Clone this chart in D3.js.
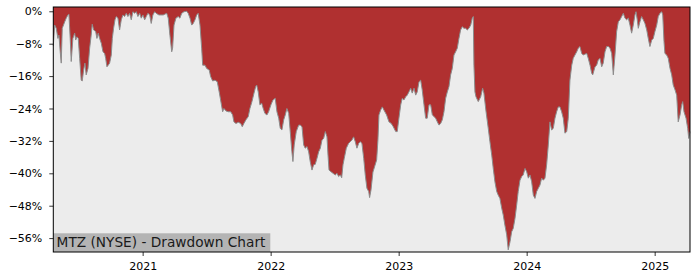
<!DOCTYPE html>
<html>
<head>
<meta charset="utf-8">
<script src="https://cdn.jsdelivr.net/npm/d3@7"></script>
<style>
  body { margin: 0; background: #fff; }
  svg text { font-family: "DejaVu Sans", sans-serif; }
</style>
</head>
<body>
<div id="chart"></div>
<script>
// time in decimal years, drawdown in percent
const years = [
  2020.302, 2020.313, 2020.325, 2020.338, 2020.346, 2020.356, 2020.364, 2020.372, 2020.391, 2020.403,
  2020.416, 2020.424, 2020.434, 2020.442, 2020.455, 2020.469, 2020.477, 2020.487, 2020.497, 2020.508,
  2020.520, 2020.528, 2020.539, 2020.549, 2020.559, 2020.573, 2020.586, 2020.598, 2020.606, 2020.617,
  2020.633, 2020.643, 2020.653, 2020.664, 2020.677, 2020.690, 2020.703, 2020.711, 2020.721, 2020.731,
  2020.742, 2020.755, 2020.763, 2020.773, 2020.784, 2020.794, 2020.807, 2020.820, 2020.833, 2020.846,
  2020.859, 2020.872, 2020.885, 2020.898, 2020.911, 2020.924, 2020.938, 2020.950, 2020.963, 2020.977,
  2020.989, 2021.002, 2021.016, 2021.028, 2021.041, 2021.055, 2021.067, 2021.080, 2021.094, 2021.106,
  2021.127, 2021.135, 2021.161, 2021.188, 2021.200, 2021.213, 2021.227, 2021.234, 2021.245, 2021.260,
  2021.278, 2021.291, 2021.305, 2021.323, 2021.344, 2021.356, 2021.370, 2021.383, 2021.395, 2021.409,
  2021.422, 2021.434, 2021.448, 2021.461, 2021.469, 2021.487, 2021.500, 2021.520, 2021.531, 2021.547,
  2021.565, 2021.583, 2021.598, 2021.609, 2021.625, 2021.635, 2021.651, 2021.669, 2021.688, 2021.703,
  2021.713, 2021.729, 2021.747, 2021.766, 2021.778, 2021.791, 2021.807, 2021.825, 2021.838, 2021.854,
  2021.870, 2021.883, 2021.891, 2021.903, 2021.916, 2021.930, 2021.942, 2021.955, 2021.971, 2021.984,
  2022.002, 2022.018, 2022.036, 2022.049, 2022.063, 2022.075, 2022.088, 2022.102, 2022.114, 2022.127,
  2022.141, 2022.153, 2022.166, 2022.174, 2022.184, 2022.200, 2022.219, 2022.231, 2022.245, 2022.258,
  2022.270, 2022.284, 2022.297, 2022.309, 2022.323, 2022.336, 2022.348, 2022.362, 2022.375, 2022.388,
  2022.401, 2022.414, 2022.427, 2022.440, 2022.448, 2022.456, 2022.471, 2022.487, 2022.505, 2022.518,
  2022.531, 2022.544, 2022.555, 2022.565, 2022.575, 2022.591, 2022.609, 2022.622, 2022.635, 2022.648,
  2022.661, 2022.674, 2022.688, 2022.700, 2022.713, 2022.727, 2022.739, 2022.752, 2022.766, 2022.773,
  2022.784, 2022.799, 2022.828, 2022.838, 2022.846, 2022.859, 2022.872, 2022.885, 2022.906, 2022.924,
  2022.942, 2022.958, 2022.977, 2022.989, 2023.002, 2023.016, 2023.028, 2023.041, 2023.055, 2023.067,
  2023.080, 2023.094, 2023.106, 2023.120, 2023.133, 2023.145, 2023.159, 2023.172, 2023.184, 2023.198,
  2023.211, 2023.223, 2023.237, 2023.250, 2023.263, 2023.276, 2023.289, 2023.302, 2023.315, 2023.328,
  2023.341, 2023.354, 2023.367, 2023.380, 2023.393, 2023.406, 2023.419, 2023.432, 2023.445, 2023.458,
  2023.471, 2023.484, 2023.497, 2023.510, 2023.523, 2023.536, 2023.549, 2023.563, 2023.575, 2023.583,
  2023.588, 2023.596, 2023.604, 2023.622, 2023.641, 2023.656, 2023.666, 2023.682, 2023.700, 2023.713,
  2023.727, 2023.739, 2023.752, 2023.766, 2023.778, 2023.791, 2023.805, 2023.817, 2023.830, 2023.844,
  2023.856, 2023.870, 2023.883, 2023.895, 2023.909, 2023.922, 2023.934, 2023.948, 2023.961, 2023.973,
  2023.987, 2024.000, 2024.013, 2024.026, 2024.039, 2024.052, 2024.065, 2024.078, 2024.091, 2024.104,
  2024.117, 2024.130, 2024.143, 2024.156, 2024.169, 2024.182, 2024.195, 2024.208, 2024.221, 2024.234,
  2024.247, 2024.260, 2024.273, 2024.286, 2024.299, 2024.313, 2024.325, 2024.338, 2024.352, 2024.364,
  2024.377, 2024.391, 2024.403, 2024.416, 2024.430, 2024.442, 2024.455, 2024.469, 2024.481, 2024.495,
  2024.508, 2024.516, 2024.534, 2024.547, 2024.559, 2024.573, 2024.586, 2024.598, 2024.612, 2024.625,
  2024.638, 2024.651, 2024.664, 2024.677, 2024.690, 2024.703, 2024.716, 2024.729, 2024.742, 2024.755,
  2024.768, 2024.781, 2024.794, 2024.807, 2024.820, 2024.833, 2024.846, 2024.854, 2024.864, 2024.872,
  2024.885, 2024.898, 2024.911, 2024.924, 2024.938, 2024.950, 2024.963, 2024.977, 2024.989, 2025.002,
  2025.016, 2025.028, 2025.041, 2025.055, 2025.063, 2025.073, 2025.080, 2025.094, 2025.106, 2025.120,
  2025.133, 2025.145, 2025.159, 2025.172, 2025.184, 2025.198, 2025.211, 2025.219, 2025.229, 2025.245,
  2025.258, 2025.266, 2025.276
];
const drawdown = [
  -8.6, -3.4, -4.2, -6.7, -5.9, -10.0, -12.8, -4.2, -2.6, -1.7,
  -0.9, -0.7, -6.7, -12.4, -6.7, -5.4, -7.1, -6.3, -6.7, -11.6,
  -17.0, -17.2, -14.5, -12.8, -15.7, -14.1, -9.1, -5.9, -3.2, -4.6,
  -5.0, -6.7, -5.4, -6.7, -7.9, -10.0, -10.4, -11.6, -13.7, -13.3,
  -12.8, -10.8, -6.7, -4.2, -2.1, -1.3, -1.7, -4.6, -2.1, -0.9,
  -1.3, -0.5, -1.3, -0.5, -2.1, -0.1, -0.5, -0.1, -1.3, -0.5,
  -1.7, -0.9, -2.1, -1.3, -0.5, -0.9, -3.0, -0.9, -0.1, -0.5,
  -0.9, -0.9, -0.9, -0.5, -1.7, -5.9, -10.0, -9.1, -3.4, -1.7,
  -1.3, -1.7, -0.5, -0.1, 0.0, -0.5, -1.7, -3.4, -3.0, -2.1,
  -0.9, -0.5, -3.4, -9.1, -13.3, -13.3, -14.1, -14.5, -16.1, -17.2,
  -17.0, -17.4, -19.9, -21.9, -24.8, -24.0, -24.6, -24.8, -24.8, -25.6,
  -27.3, -27.7, -27.4, -27.7, -28.5, -27.7, -26.8, -26.0, -24.0, -22.3,
  -20.2, -18.6, -18.2, -19.9, -23.1, -22.7, -24.0, -25.2, -25.6, -24.8,
  -23.1, -21.9, -21.5, -24.8, -26.4, -28.9, -29.3, -26.8, -25.6, -24.0,
  -25.2, -29.7, -34.7, -37.1, -33.0, -29.7, -28.1, -28.1, -28.5, -33.0,
  -33.8, -33.4, -34.7, -37.1, -39.2, -37.9, -37.8, -36.3, -34.7, -33.8,
  -31.8, -31.4, -29.7, -31.0, -35.5, -39.2, -39.6, -40.0, -40.4, -40.0,
  -40.8, -40.4, -41.1, -37.9, -36.3, -33.8, -32.6, -32.2, -31.8, -31.0,
  -32.2, -33.8, -32.6, -32.2, -32.6, -36.3, -40.4, -43.7, -44.5, -46.0,
  -44.1, -39.7, -36.7, -31.8, -25.6, -24.4, -23.6, -24.4, -25.6, -27.3,
  -27.7, -28.5, -29.7, -29.7, -26.4, -23.1, -21.5, -21.9, -21.1, -20.7,
  -19.9, -19.0, -20.2, -19.0, -20.7, -19.9, -17.4, -17.0, -19.4, -23.1,
  -26.4, -26.4, -23.1, -23.1, -25.6, -26.0, -26.4, -27.3, -28.1, -27.7,
  -26.8, -24.8, -21.5, -19.9, -18.6, -15.7, -14.1, -10.8, -10.0, -9.1,
  -6.7, -4.6, -3.8, -4.2, -4.2, -4.6, -4.2, -3.4, -1.7, -1.3,
  -13.3, -19.9, -21.1, -22.3, -21.1, -19.0, -20.2, -24.6, -28.9, -32.2,
  -35.5, -38.8, -42.1, -44.5, -45.4, -46.2, -48.6, -50.3, -52.8, -55.2,
  -58.9, -56.9, -54.4, -53.6, -51.1, -47.8, -44.5, -41.7, -40.8, -40.4,
  -38.8, -39.6, -41.2, -40.4, -42.1, -45.4, -46.2, -44.5, -43.7, -42.9,
  -41.2, -41.7, -41.2, -37.9, -33.0, -27.3, -29.3, -28.9, -26.4, -24.8,
  -23.6, -23.6, -24.8, -26.4, -30.1, -29.7, -26.4, -17.0, -13.3, -11.6,
  -10.8, -10.0, -9.1, -8.7, -10.4, -10.8, -10.6, -10.4, -11.6, -13.3,
  -15.3, -15.7, -13.7, -13.3, -12.0, -11.6, -13.7, -12.8, -10.0, -8.7,
  -8.7, -9.1, -10.4, -15.7, -10.8, -5.0, -2.6, -2.1, -1.3, -0.5,
  -1.7, -2.1, -1.7, -3.4, -5.4, -3.4, -0.9, -0.1, -2.1, -4.2,
  -2.6, -1.3, -2.1, -3.0, -4.6, -6.7, -8.7, -7.1, -6.7, -5.0,
  -3.4, -1.3, -0.5, -0.1, -0.9, -7.5, -10.4, -10.8, -11.6, -14.1,
  -15.7, -18.2, -19.4, -20.7, -27.3, -25.6, -23.1, -22.3, -24.8, -26.4,
  -28.9, -31.4, -29.7
];
const yTicks = [0, -8, -16, -24, -32, -40, -48, -56];
const xTicks = [2021, 2022, 2023, 2024, 2025];
const title = "MTZ (NYSE) - Drawdown Chart";

const width = 700, height = 280;
const margin = {top: 7, right: 10, bottom: 28, left: 53.3};

const svg = d3.select("#chart").append("svg")
  .attr("width", width)
  .attr("height", height);

const x = d3.scaleLinear()
  .domain([2020.302, 2025.276])
  .range([margin.left, width - margin.right]);

const y = d3.scaleLinear()
  .domain([-59.43, 1.06])
  .range([height - margin.bottom, margin.top]);

const data = years.map((t, i) => ({t: t, v: drawdown[i]}));

// plot background
svg.append("rect")
  .attr("x", margin.left)
  .attr("y", margin.top)
  .attr("width", width - margin.left - margin.right)
  .attr("height", height - margin.top - margin.bottom)
  .attr("fill", "#ececec");

// red area from the top of the axes down to the drawdown line
const area = d3.area()
  .x(d => x(d.t))
  .y0(margin.top)
  .y1(d => y(d.v));

svg.append("path")
  .datum(data)
  .attr("d", area)
  .attr("fill", "#b03030");

const line = d3.line()
  .x(d => x(d.t))
  .y(d => y(d.v));

svg.append("path")
  .datum(data)
  .attr("d", line)
  .attr("fill", "none")
  .attr("stroke", "#8c8c8c")
  .attr("stroke-width", 1);

// title box in the lower left corner
const label = svg.append("g");
label.append("rect")
  .attr("x", margin.left)
  .attr("y", 233.3)
  .attr("width", 217)
  .attr("height", height - margin.bottom - 233.3)
  .attr("fill", "#b4b4b4");
label.append("text")
  .attr("x", margin.left + 3.3)
  .attr("y", 247)
  .attr("font-size", 13.7)
  .attr("fill", "#1a1a1a")
  .text(title);

// axes
const fmtPct = v => (v < 0 ? "\u2212" + Math.abs(v) : v) + "%";

const yAxis = svg.append("g")
  .attr("transform", "translate(" + margin.left + ",0)")
  .call(d3.axisLeft(y).tickValues(yTicks).tickFormat(fmtPct).tickSize(4).tickPadding(7));

const xAxis = svg.append("g")
  .attr("transform", "translate(0," + (height - margin.bottom) + ")")
  .call(d3.axisBottom(x).tickValues(xTicks).tickFormat(d3.format("d")).tickSize(4).tickPadding(6));

[yAxis, xAxis].forEach(g => {
  g.select(".domain").remove();
  g.selectAll("line").attr("stroke", "#000").attr("stroke-width", 0.8);
  g.selectAll("text").attr("font-size", 11).attr("fill", "#000")
    .attr("font-family", "DejaVu Sans, sans-serif");
});

// frame
svg.append("rect")
  .attr("x", margin.left)
  .attr("y", margin.top)
  .attr("width", width - margin.left - margin.right)
  .attr("height", height - margin.top - margin.bottom)
  .attr("fill", "none")
  .attr("stroke", "#000")
  .attr("stroke-width", 1);
</script>
</body>
</html>
